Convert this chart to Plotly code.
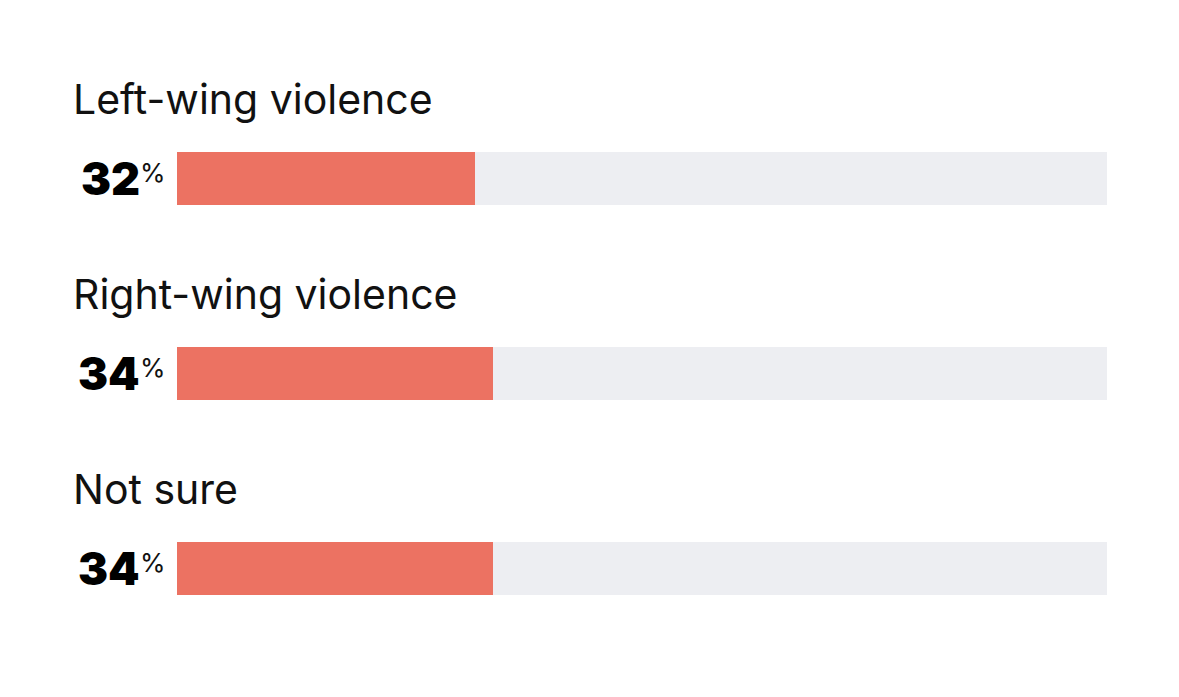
import plotly.graph_objects as go

categories = ["Left-wing violence", "Right-wing violence", "Not sure"]
values = [32, 34, 34]
full = [100, 100, 100]

BAR = "#EC7262"
BG = "#EDEEF2"
FONT = "Inter"

# page body has an 8px margin; compensate so the chart lands where the reference is
OFF = 8
W, H = 1179 - 2 * OFF, 697 - 2 * OFF
L = 177 - OFF
R = W - (1107 - OFF)
pos = list(range(len(categories)))
STEP = 195.0
C0 = 178.5 - OFF  # pixel center of first bar within the figure

fig = go.Figure()
fig.add_trace(go.Bar(y=pos, x=full, orientation="h", marker=dict(color=BG, line=dict(width=0)),
                     width=53 / STEP, hoverinfo="skip", showlegend=False))
fig.add_trace(go.Bar(y=pos, x=values, orientation="h", marker=dict(color=BAR, line=dict(width=0)),
                     width=53 / STEP, hoverinfo="skip", showlegend=False))

plot_w = W - L - R
def px_to_paper(px):
    return (px - OFF - L) / plot_w

for i, (c, v) in enumerate(zip(categories, values)):
    fig.add_annotation(text=c, x=px_to_paper(71), xref="paper", y=i - (178.5 - 99) / STEP, yref="y",
                       xanchor="left", yanchor="middle", showarrow=False,
                       font=dict(family=FONT, size=41, color="#111111"))
    fig.add_annotation(text=str(v), x=px_to_paper(142), xref="paper", y=i, yref="y",
                       xanchor="right", yanchor="middle", showarrow=False,
                       font=dict(family=FONT, size=45, color="#000000", weight=900))
    fig.add_annotation(text="%", x=px_to_paper(138), xref="paper", y=i - 6 / STEP, yref="y",
                       xanchor="left", yanchor="middle", showarrow=False,
                       font=dict(family=FONT, size=26, color="#111111"))

fig.update_layout(
    width=W, height=H, barmode="overlay", bargap=0,
    margin=dict(l=L, r=R, t=0, b=0),
    plot_bgcolor="white", paper_bgcolor="white",
    xaxis=dict(range=[0, 100], visible=False, fixedrange=True),
    yaxis=dict(range=[(H - C0) / STEP, -C0 / STEP], visible=False, fixedrange=True),
)
fig.write_html("out.html")
